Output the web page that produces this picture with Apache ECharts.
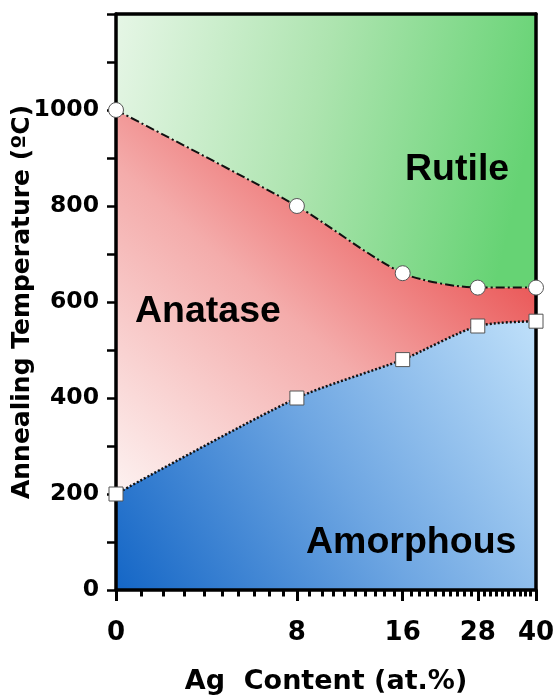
<!DOCTYPE html>
<html>
<head>
<meta charset="utf-8">
<script src="https://cdn.jsdelivr.net/npm/echarts@6/dist/echarts.min.js"></script>
<style>
html,body{margin:0;padding:0;background:#fff;}
#chart{width:556px;height:698px;}
</style>
</head>
<body>
<div id="chart"></div>
<script>
// Ag content tick labels and the underlying log-axis values they sit on
const agLabels = ['0', '8', '16', '28', '40'];
const agAxisValues = [10, 20, 30, 40, 50];
// Phase boundaries (annealing temperature, °C)
const anataseRutile = [1000, 800, 660, 630, 630];
const amorphousAnatase = [200, 400, 480, 550, 560];
// y tick labels
const yLabelValues = [0, 200, 400, 600, 800, 1000];
const yMin = 0, yMax = 1200, yStep = 100;
const xMin = 10, xMax = 50;
const phaseNames = ['Rutile', 'Anatase', 'Amorphous'];

const minorX = [];
for (let v = xMin; v <= xMax; v++) if (agAxisValues.indexOf(v) < 0) minorX.push(v);

const topPts = agAxisValues.map((x, i) => [x, anataseRutile[i]]);
const botPts = agAxisValues.map((x, i) => [x, amorphousAnatase[i]]);

const AXFONT = 'DejaVu Sans, Verdana, sans-serif';
const FONT = 'Liberation Sans, Arial, sans-serif';
const SMOOTH = 0.25;
const chart = echarts.init(document.getElementById('chart'), null, {renderer: 'canvas'});
const lin = (x1, y1, x2, y2, stops) => new echarts.graphic.LinearGradient(x1, y1, x2, y2,
  stops.map(s => ({offset: s[0], color: s[1]})));

const baseX = {type: 'log', logBase: 10, min: xMin, max: xMax, gridIndex: 0,
  splitLine: {show: false}, minorTick: {show: false}, z: 10};

chart.setOption({
  animation: false,
  grid: {left: 116, right: 20, top: 14, bottom: 108, containLabel: false, outerBoundsMode: 'none'},
  xAxis: [
    Object.assign({}, baseX, {
      position: 'bottom',
      axisLine: {show: true, lineStyle: {color: '#000', width: 3.5}},
      axisTick: {show: true, inside: false, length: 11, lineStyle: {color: '#000', width: 3}, customValues: agAxisValues},
      axisLabel: {show: true, customValues: agAxisValues, margin: 30,
        formatter: v => { const i = agAxisValues.indexOf(Math.round(v)); return i >= 0 ? agLabels[i] : ''; },
        color: '#000', fontSize: 26, fontWeight: 'bold', fontFamily: AXFONT},
      name: 'Ag  Content (at.%)', nameLocation: 'middle', nameGap: 78, nameMoveOverlap: false,
      nameTextStyle: {color: '#000', fontSize: 27, fontWeight: 'bold', fontFamily: AXFONT}
    }),
    Object.assign({}, baseX, {
      position: 'bottom',
      axisLine: {show: false},
      axisTick: {show: true, inside: false, length: 6.5, lineStyle: {color: '#000', width: 3}, customValues: minorX},
      axisLabel: {show: false}
    }),
    Object.assign({}, baseX, {
      position: 'top',
      axisLine: {show: true, lineStyle: {color: '#000', width: 3.5}},
      axisTick: {show: false}, axisLabel: {show: false}
    })
  ],
  yAxis: [
    {type: 'value', min: yMin, max: yMax, interval: yStep, position: 'left', z: 10,
      splitLine: {show: false},
      axisLine: {show: true, lineStyle: {color: '#000', width: 3.5}},
      axisTick: {show: true, inside: false, length: 9, lineStyle: {color: '#000', width: 2.5}},
      axisLabel: {margin: 17, color: '#000', fontSize: 23.5, fontWeight: 'bold', fontFamily: AXFONT,
        formatter: v => yLabelValues.indexOf(v) >= 0 ? String(v) : ''},
      name: 'Annealing Temperature (ºC)', nameLocation: 'middle', nameGap: 81, nameRotate: 90,
      nameMoveOverlap: false,
      nameTextStyle: {color: '#000', fontSize: 25, fontWeight: 'bold', fontFamily: AXFONT}
    },
    {type: 'value', min: yMin, max: yMax, position: 'right', z: 10,
      splitLine: {show: false}, axisTick: {show: false}, axisLabel: {show: false},
      axisLine: {show: true, lineStyle: {color: '#000', width: 3.5}}}
  ],
  series: [
    {type: 'line', name: phaseNames[1], data: topPts, smooth: SMOOTH, symbol: 'none', z: 1,
      lineStyle: {width: 0},
      areaStyle: {origin: 'start', opacity: 1,
        color: lin(0, 1, 1, 0, [[0, '#ffffff'], [0.12, '#fdf1f0'], [0.5, '#f4acab'], [0.8, '#ea5656'], [1, '#e23838']])}},
    {type: 'line', name: phaseNames[0], data: topPts, smooth: SMOOTH, symbol: 'none', z: 1,
      lineStyle: {width: 0},
      areaStyle: {origin: 'end', opacity: 1,
        color: lin(0, 0, 1, 0.35, [[0, '#e6f6e6'], [0.5, '#ade4af'], [1, '#66d374']])}},
    {type: 'line', name: phaseNames[2], data: botPts, smooth: SMOOTH, symbol: 'none', z: 1,
      lineStyle: {width: 0},
      areaStyle: {origin: 'start', opacity: 1,
        color: lin(0, 1, 1, 0, [[0, '#1466c6'], [0.5, '#6ea6e2'], [1, '#bfe0fa']])}},
    {type: 'line', data: topPts, smooth: SMOOTH, z: 20, clip: false,
      lineStyle: {color: '#111', width: 2, type: [9, 3, 2, 3]},
      symbol: 'circle', symbolSize: 15,
      itemStyle: {color: '#fff', borderColor: '#555', borderWidth: 1}},
    {type: 'line', data: botPts, smooth: SMOOTH, z: 20, clip: false,
      lineStyle: {color: '#111', width: 2.5, type: [2, 2]},
      symbol: 'rect', symbolSize: 14,
      itemStyle: {color: '#fff', borderColor: '#555', borderWidth: 1}}
  ],
  graphic: [
    {type: 'text', left: 405, top: 151, z: 30, style: {text: phaseNames[0], fill: '#000', font: 'bold 37.5px ' + FONT}},
    {type: 'text', left: 135, top: 293, z: 30, style: {text: phaseNames[1], fill: '#000', font: 'bold 37.5px ' + FONT}},
    {type: 'text', left: 306, top: 524, z: 30, style: {text: phaseNames[2], fill: '#000', font: 'bold 37.5px ' + FONT}}
  ]
});
</script>
</body>
</html>
